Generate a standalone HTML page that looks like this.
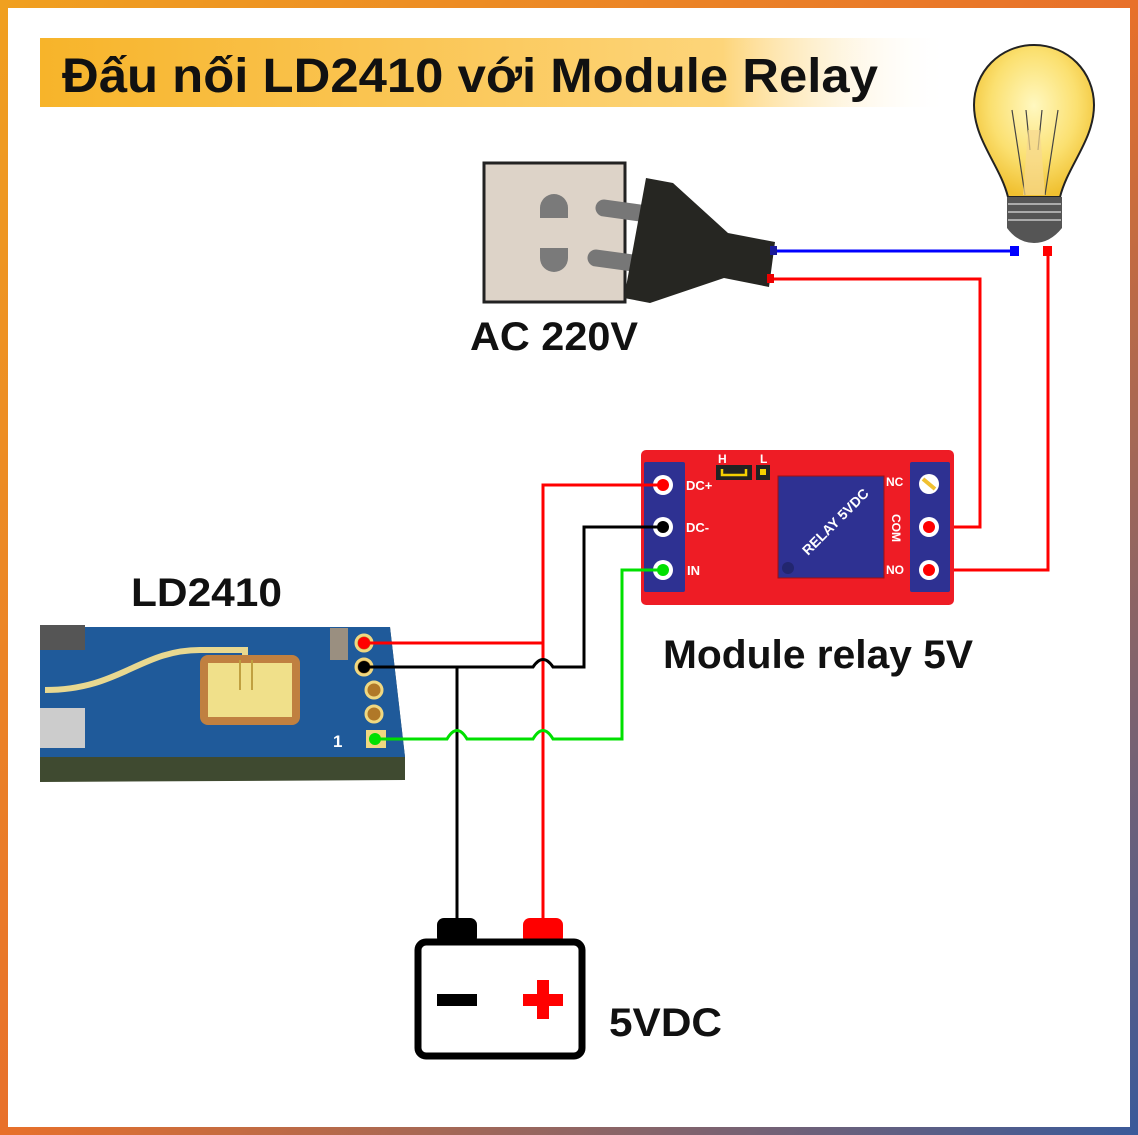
<!DOCTYPE html>
<html><head><meta charset="utf-8"><style>
html,body{margin:0;padding:0;background:#fff}
svg{display:block}
text{font-family:"Liberation Sans",sans-serif;font-weight:bold}
</style></head><body>
<svg width="1138" height="1135" viewBox="0 0 1138 1135" xmlns="http://www.w3.org/2000/svg">
<defs>
<linearGradient id="fr" x1="0" y1="0" x2="1" y2="1">
<stop offset="0" stop-color="#f0a020"/><stop offset="0.5" stop-color="#e8702a"/><stop offset="1" stop-color="#3a5a9a"/>
</linearGradient>
<linearGradient id="tb" x1="0" y1="0" x2="1" y2="0">
<stop offset="0" stop-color="#f7b42a"/><stop offset="0.75" stop-color="#fdd57a"/><stop offset="1" stop-color="#fff" stop-opacity="0"/>
</linearGradient>
<radialGradient id="bulb" cx="0.5" cy="0.4" r="0.6">
<stop offset="0" stop-color="#fff8c0"/><stop offset="0.6" stop-color="#fbe070"/><stop offset="1" stop-color="#f0c030"/>
</radialGradient>
</defs>
<rect x="0" y="0" width="1138" height="1135" fill="url(#fr)"/>
<rect x="8" y="8" width="1122" height="1119" fill="#fff"/>
<!-- title -->
<rect x="40" y="38" width="910" height="69" fill="url(#tb)"/>
<text x="62" y="92" font-size="48" fill="#111" textLength="816" lengthAdjust="spacingAndGlyphs">Đấu nối LD2410 với Module Relay</text>

<!-- socket -->
<rect x="484" y="163" width="141" height="139" fill="#ddd3c8" stroke="#222" stroke-width="3"/>
<path d="M540 218 v-10 a14 14 0 0 1 28 0 v10 z" fill="#7a7a7a"/>
<path d="M540 248 h28 v10 a14 14 0 0 1 -28 0 z" fill="#7a7a7a"/>
<line x1="604" y1="208" x2="640" y2="213" stroke="#777" stroke-width="17" stroke-linecap="round"/>
<line x1="596" y1="258" x2="640" y2="264" stroke="#777" stroke-width="17" stroke-linecap="round"/>
<polygon points="646,178 673,183 728,233 775,242 769,287 724,278 650,303 624,298" fill="#262622"/>
<!-- AC wires -->
<polyline points="775,251 1015,251" fill="none" stroke="#0000ff" stroke-width="3"/>
<rect x="770" y="246" width="7" height="9" fill="#1a1a9a"/>
<rect x="1010" y="246" width="9" height="10" fill="#0000ff"/>
<polyline points="772,279 980,279 980,527 940,527" fill="none" stroke="#ff0000" stroke-width="3"/>
<rect x="767" y="274" width="7" height="9" fill="#e00"/>
<rect x="1043" y="246" width="9" height="10" fill="#ff0000"/>
<polyline points="1048,250 1048,570 940,570" fill="none" stroke="#ff0000" stroke-width="3"/>
<!-- bulb -->
<path d="M1034 45 C1000 45 974 72 974 105 C974 140 1000 165 1008 197 L1060 197 C1068 165 1094 140 1094 105 C1094 72 1068 45 1034 45 Z" fill="url(#bulb)" stroke="#222" stroke-width="2"/>
<path d="M1012 110 L1025 195 M1058 110 L1045 195 M1026 110 L1030 150 M1042 110 L1038 150" stroke="#444" stroke-width="1.2" fill="none"/>
<path d="M1028 130 L1040 130 L1045 195 L1023 195 Z" fill="#f6d890" opacity="0.7"/>
<path d="M1007 197 L1062 197 L1062 228 Q1050 243 1034 243 Q1018 243 1007 228 Z" fill="#555"/>
<path d="M1008 204 H1061 M1008 212 H1061 M1008 220 H1061" stroke="#aaa" stroke-width="2"/>

<!-- relay module -->
<rect x="641" y="450" width="313" height="155" rx="5" fill="#ee1c25"/>
<rect x="644" y="462" width="41" height="130" rx="2" fill="#2e3192"/>
<rect x="910" y="462" width="40" height="130" rx="2" fill="#2e3192"/>
<rect x="778" y="476" width="106" height="102" fill="#2e3192" stroke="#a01010"/>
<circle cx="788" cy="568" r="6" fill="#22266f"/>
<text x="0" y="0" font-size="14" fill="#fff" transform="translate(808,556) rotate(-45)">RELAY 5VDC</text>
<rect x="716" y="465" width="36" height="15" fill="#222"/>
<path d="M722 469 v6 h24 v-6" stroke="#f5d000" stroke-width="2.5" fill="none"/>
<rect x="756" y="465" width="14" height="15" fill="#222"/>
<rect x="760" y="469" width="6" height="6" fill="#f5d000"/>
<text x="718" y="463" font-size="12" fill="#fff">H</text>
<text x="760" y="463" font-size="12" fill="#fff">L</text>
<text x="686" y="490" font-size="13" fill="#fff">DC+</text>
<text x="686" y="532" font-size="13" fill="#fff">DC-</text>
<text x="687" y="575" font-size="13" fill="#fff">IN</text>
<text x="886" y="486" font-size="12" fill="#fff">NC</text>
<text x="886" y="574" font-size="12" fill="#fff">NO</text>
<text x="0" y="0" font-size="12" fill="#fff" transform="translate(892,514) rotate(90)">COM</text>
<g stroke="#f0c030" stroke-width="4">
<circle cx="663" cy="485" r="10" fill="#fff" stroke="none"/><circle cx="663" cy="527" r="10" fill="#fff" stroke="none"/><circle cx="663" cy="570" r="10" fill="#fff" stroke="none"/>
<circle cx="929" cy="484" r="10" fill="#fff" stroke="none"/><circle cx="929" cy="527" r="10" fill="#fff" stroke="none"/><circle cx="929" cy="570" r="10" fill="#fff" stroke="none"/>
<line x1="923" y1="479" x2="935" y2="489"/>
</g>

<!-- LD2410 board -->
<path d="M40 627 L390 627 L405 757 L405 780 L40 782 Z" fill="#3f4a30"/>
<path d="M40 627 L390 627 L405 757 L40 757 Z" fill="#1f5a9a"/>
<rect x="40" y="625" width="45" height="25" fill="#555"/>
<path d="M45 690 C120 690 140 650 200 650 L245 650 L245 685" stroke="#e8d890" stroke-width="6" fill="none"/>
<rect x="200" y="655" width="100" height="70" rx="8" fill="#c08040"/>
<rect x="208" y="663" width="84" height="54" fill="#f0e08a"/>
<path d="M240 660 V690 M252 660 V690" stroke="#c0a040" stroke-width="2"/>
<rect x="40" y="708" width="45" height="40" fill="#ccc"/>
<rect x="330" y="628" width="18" height="32" fill="#9a8f80"/>
<g fill="#b07828" stroke="#f0d880" stroke-width="3">
<circle cx="364" cy="643" r="8"/><circle cx="364" cy="667" r="8"/><circle cx="374" cy="690" r="8"/><circle cx="374" cy="714" r="8"/>
</g>
<rect x="366" y="730" width="20" height="18" fill="#f0d880"/>
<text x="333" y="747" font-size="17" fill="#fff">1</text>

<!-- DC wires -->
<polyline points="663,485 543,485 543,940" fill="none" stroke="#ff0000" stroke-width="3"/>
<polyline points="364,643 543,643" fill="none" stroke="#ff0000" stroke-width="3"/>
<path d="M663 527 H584 V667 H553 Q543 652 533 667 H364" fill="none" stroke="#000" stroke-width="3"/>
<line x1="457" y1="667" x2="457" y2="940" stroke="#000" stroke-width="3"/>
<path d="M663 570 H622 V739 H553 Q543 722 533 739 H467 Q457 722 447 739 H375" fill="none" stroke="#00e000" stroke-width="3"/>
<circle cx="663" cy="485" r="6" fill="#f00"/><circle cx="663" cy="527" r="6" fill="#000"/><circle cx="663" cy="570" r="6" fill="#00e000"/>
<circle cx="929" cy="527" r="6" fill="#f00"/><circle cx="929" cy="570" r="6" fill="#f00"/>
<circle cx="364" cy="643" r="6" fill="#f00"/><circle cx="364" cy="667" r="6" fill="#000"/><circle cx="375" cy="739" r="6" fill="#00e000"/>

<!-- battery -->
<rect x="437" y="918" width="40" height="26" rx="7" fill="#000"/>
<rect x="523" y="918" width="40" height="26" rx="7" fill="#f00"/>
<rect x="418" y="942" width="164" height="114" rx="8" fill="#fff" stroke="#000" stroke-width="7"/>
<rect x="437" y="994" width="40" height="12" fill="#000"/>
<rect x="523" y="994" width="40" height="12" fill="#f00"/>
<rect x="537" y="980" width="12" height="39" fill="#f00"/>

<!-- labels -->
<text x="470" y="350" font-size="40" fill="#111" textLength="168" lengthAdjust="spacingAndGlyphs">AC 220V</text>
<text x="131" y="606" font-size="40" fill="#111" textLength="151" lengthAdjust="spacingAndGlyphs">LD2410</text>
<text x="663" y="668" font-size="40" fill="#111" textLength="310" lengthAdjust="spacingAndGlyphs">Module relay 5V</text>
<text x="609" y="1036" font-size="40" fill="#111" textLength="113" lengthAdjust="spacingAndGlyphs">5VDC</text>
</svg>
</body></html>
